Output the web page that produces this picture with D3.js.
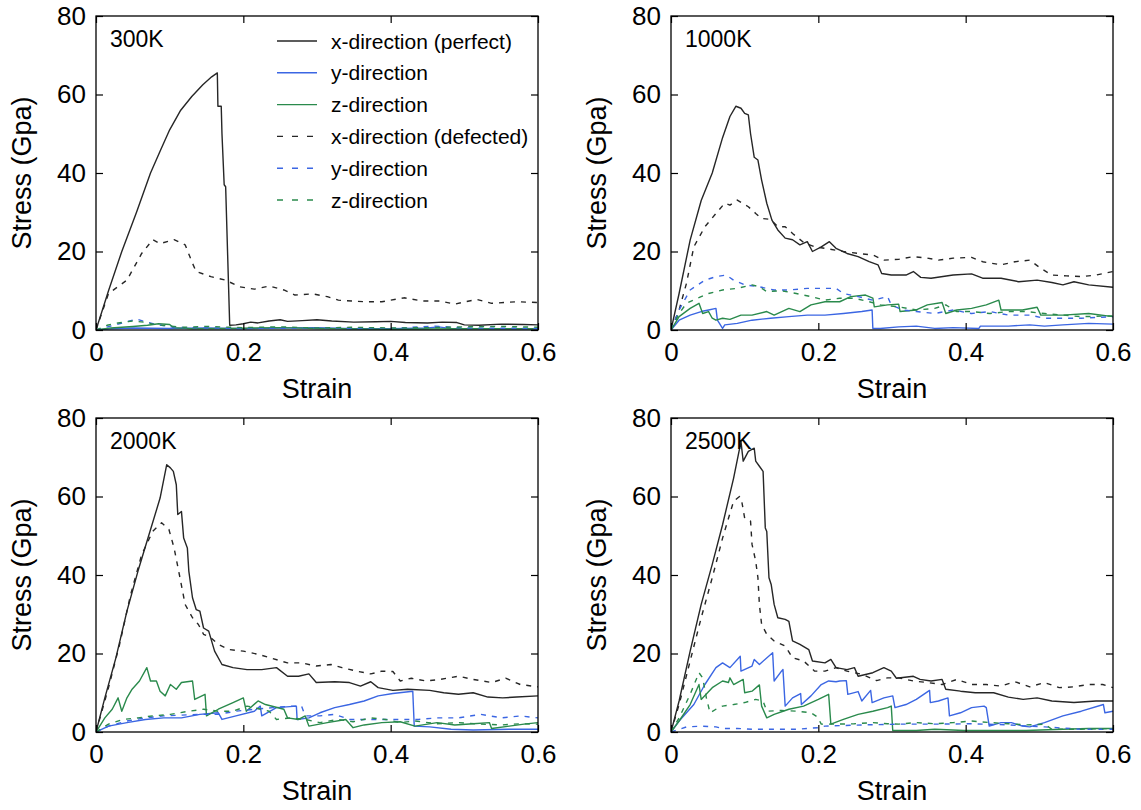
<!DOCTYPE html>
<html>
<head>
<meta charset="utf-8">
<script src="https://cdn.jsdelivr.net/npm/d3@7"></script>
<style>
  body { margin: 0; background: #fff; }
  svg { font-family: "Liberation Sans", Arial, Helvetica, sans-serif; }
  .frame { fill: none; stroke: #000; stroke-width: 1.3; }
  .tick line { stroke: #000; stroke-width: 1.2; }
  .tick text { font-size: 26px; fill: #000; }
  .axis-title { font-size: 27px; fill: #000; }
  .temp-label { font-size: 23px; fill: #000; }
  .legend text { font-size: 21px; fill: #000; }
  .curve { fill: none; stroke-width: 1.4; stroke-linejoin: round; }
</style>
</head>
<body>
<div id="chart"></div>
<script>
// axis ticks
var strainTicks = [0, 0.2, 0.4, 0.6];
var stressTicks = [0, 20, 40, 60, 80];

// legend entries
var seriesNames = ["x-direction (perfect)", "y-direction", "z-direction",
                   "x-direction (defected)", "y-direction", "z-direction"];
var temperatures = ["300K", "1000K", "2000K", "2500K"];

// ---- 300K ----  [strain, stress]
var t300_xPerfect = [[0,0],[0.017,10],[0.035,20],[0.055,30],[0.074,40],[0.088,46],[0.1,51],[0.115,56],[0.13,59.5],[0.145,62.5],[0.157,64.5],[0.1647,65.5],
  [0.1655,57],[0.170,57],[0.171,50],[0.174,37],[0.176,36.5],[0.1815,1.2],[0.19,1.3],[0.2,1.6],[0.21,2],[0.22,1.8],[0.235,2.3],[0.25,2.6],[0.26,2.2],[0.28,2.4],[0.3,2.6],
  [0.32,2.3],[0.35,2],[0.38,2.1],[0.4,2.2],[0.42,1.9],[0.45,1.8],[0.47,2],[0.49,1.9],[0.5,1.3],[0.52,1.2],[0.55,1.5],[0.58,1.4],[0.6,1.3]];
var t300_yPerfect = [[0,0],[0.02,0.3],[0.05,0.5],[0.1,0.4],[0.15,0.5],[0.2,0.3],[0.25,0.5],[0.3,0.6],[0.35,0.3],[0.4,0.3],[0.45,0.5],[0.465,0.8],[0.48,0.4],[0.55,0.3],[0.6,0.3]];
var t300_zPerfect = [[0,0],[0.02,0.5],[0.05,0.9],[0.07,1.2],[0.085,1.6],[0.1,1.4],[0.105,0.6],[0.13,0.3],[0.18,0.4],[0.25,0.6],[0.3,0.4],[0.4,0.2],[0.5,0.3],[0.6,0.3]];
var t300_xDefect = [[0,0],[0.017,9.3],[0.042,12.7],[0.062,19.5],[0.077,23],[0.087,22],[0.106,23],[0.121,21.7],[0.131,17],[0.136,14.9],[0.156,13.6],[0.176,12.7],
  [0.195,11],[0.215,10.4],[0.235,11.2],[0.255,10.2],[0.27,8.9],[0.294,9.2],[0.314,8.5],[0.329,7.6],[0.364,7.2],[0.388,7.2],[0.418,8.2],[0.443,7.4],[0.467,7.4],
  [0.487,6.6],[0.517,7.8],[0.537,6.8],[0.571,7.2],[0.6,7]];
var t300_yDefect = [[0,0],[0.02,1],[0.04,2],[0.055,2.8],[0.065,2.2],[0.08,1.5],[0.1,0.8],[0.12,0.6],[0.15,0.5],[0.2,0.4],[0.3,0.5],[0.4,0.4],[0.46,1.0],[0.5,0.5],[0.6,0.4]];
var t300_zDefect = [[0,0],[0.015,1.2],[0.03,1.8],[0.05,2.3],[0.065,2.0],[0.08,1.4],[0.1,1.0],[0.12,0.7],[0.15,0.9],[0.2,0.6],[0.25,0.8],[0.3,0.5],[0.35,0.7],[0.4,0.5],[0.45,0.6],[0.5,0.8],[0.55,0.9],[0.6,0.7]];

// ---- 1000K ----
var t1000_xPerfect = [[0,0],[0.011,9.3],[0.026,22.9],[0.041,33],[0.056,40],[0.070,49],[0.080,54.4],[0.088,57],[0.095,56.5],[0.100,55.2],[0.105,54.8],[0.108,50],
  [0.113,44],[0.118,43.3],[0.123,38.2],[0.130,32.3],[0.137,28],[0.145,25.5],[0.155,23.4],[0.165,23],[0.175,21.7],[0.185,22.5],[0.192,20],[0.204,21.2],[0.215,22.5],
  [0.224,20.8],[0.239,19.5],[0.254,18.7],[0.269,17.4],[0.281,16.6],[0.286,14.4],[0.299,14],[0.319,14],[0.329,14.9],[0.339,13.4],[0.353,13.2],[0.383,14],[0.408,14.3],
  [0.423,13.2],[0.448,13.2],[0.472,12.3],[0.497,12.7],[0.517,12.1],[0.532,11.5],[0.547,12.3],[0.567,11.5],[0.6,10.9]];
var t1000_yPerfect = [[0,0],[0.011,2.5],[0.026,3.8],[0.041,4.7],[0.051,5.1],[0.061,5.5],[0.063,2.5],[0.070,0.4],[0.073,1.3],[0.090,1.7],[0.110,2.5],[0.135,3.0],
  [0.160,3.4],[0.185,3.8],[0.209,3.8],[0.234,4.2],[0.259,4.7],[0.273,5.1],[0.274,0.4],[0.284,0.4],[0.309,0.8],[0.333,1.0],[0.358,0.4],[0.383,0.6],[0.418,0.4],
  [0.420,1.0],[0.458,1.0],[0.487,1.3],[0.507,1.0],[0.532,1.3],[0.567,1.7],[0.6,1.5]];
var t1000_zPerfect = [[0,0],[0.011,3.4],[0.026,5.5],[0.038,6.8],[0.043,4.2],[0.051,4.7],[0.056,3.0],[0.061,2.5],[0.070,3.0],[0.080,2.7],[0.095,3.8],[0.110,3.8],
  [0.130,4.7],[0.140,3.8],[0.160,5.5],[0.175,4.7],[0.190,6.4],[0.209,7.2],[0.229,7.2],[0.244,8.5],[0.264,8.9],[0.274,8.1],[0.276,5.9],[0.294,6.4],[0.309,6.6],
  [0.311,4.7],[0.333,5.1],[0.348,6.4],[0.368,7.0],[0.373,4.2],[0.388,5.1],[0.408,5.5],[0.428,6.4],[0.445,7.6],[0.448,5.1],[0.477,5.1],[0.497,5.8],[0.502,3.8],
  [0.532,3.8],[0.567,4.2],[0.6,3.4]];
var t1000_xDefect = [[0,0],[0.011,5.1],[0.021,11.9],[0.031,21.2],[0.046,26.3],[0.061,29.7],[0.073,32.3],[0.080,31.8],[0.090,33.1],[0.105,31.4],[0.115,29.7],
  [0.123,28.4],[0.135,28.2],[0.145,26.3],[0.155,26.3],[0.165,24.6],[0.180,22.3],[0.195,21.2],[0.209,20.8],[0.234,20],[0.254,19.5],[0.274,19.1],[0.289,17.8],
  [0.309,18],[0.329,18.7],[0.348,18.3],[0.363,17.8],[0.383,18.3],[0.408,18.5],[0.423,17.4],[0.448,16.6],[0.467,17.4],[0.487,17.8],[0.502,15.7],[0.517,14],
  [0.537,13.8],[0.557,13.6],[0.577,14],[0.6,14.9]];
var t1000_yDefect = [[0,0],[0.011,5.1],[0.026,10.2],[0.046,12.7],[0.061,13.6],[0.075,14],[0.085,12.7],[0.100,11.5],[0.120,11],[0.140,10.2],[0.160,10.2],
  [0.185,10.6],[0.209,10.6],[0.224,10.6],[0.234,9.3],[0.254,8.5],[0.274,7.6],[0.294,8.5],[0.299,6.4],[0.314,5.1],[0.333,4.7],[0.358,4.2],[0.383,5.1],[0.408,4.2],
  [0.433,4.7],[0.458,3.8],[0.487,3.8],[0.507,3.0],[0.557,3.0],[0.6,3.4]];
var t1000_zDefect = [[0,0],[0.011,4.2],[0.021,6.8],[0.036,8.1],[0.051,9.3],[0.070,10.2],[0.090,10.6],[0.110,11.5],[0.120,11],[0.130,9.8],[0.150,10],[0.170,9.3],
  [0.190,8.5],[0.209,7.6],[0.229,8.1],[0.249,8.1],[0.269,7.2],[0.284,6.4],[0.309,5.9],[0.333,5.1],[0.358,5.5],[0.373,6.4],[0.388,4.7],[0.408,4.7],[0.433,4.2],
  [0.458,4.7],[0.482,4.7],[0.507,4.2],[0.557,3.4],[0.6,3.6]];

// ---- 2000K ----
var t2000_xPerfect = [[0,0],[0.012,8.7],[0.027,18.9],[0.042,30.8],[0.057,41],[0.072,50.3],[0.087,59.6],[0.096,68.1],[0.101,67.3],[0.105,66.4],[0.109,63],
  [0.111,55.4],[0.116,56.2],[0.119,49.4],[0.124,46.9],[0.126,41],[0.131,34.2],[0.136,31.2],[0.141,30.8],[0.146,26.5],[0.153,25.7],[0.161,20.6],[0.171,17.2],
  [0.186,16.4],[0.205,15.9],[0.225,15.9],[0.245,16.4],[0.260,14.2],[0.275,14.2],[0.289,14.8],[0.299,12.6],[0.324,12.8],[0.344,12.6],[0.359,11.7],[0.373,12.8],
  [0.383,11.3],[0.403,10.6],[0.423,10.9],[0.453,10.6],[0.472,10],[0.492,9.6],[0.512,10],[0.532,8.9],[0.552,8.7],[0.571,8.9],[0.6,9.2]];
var t2000_yPerfect = [[0,0],[0.017,1.5],[0.042,2.4],[0.067,3.2],[0.092,3.6],[0.116,3.6],[0.141,4.5],[0.166,4.9],[0.171,3.2],[0.190,4.1],[0.215,5.3],[0.223,6.6],
  [0.225,4.1],[0.245,6.2],[0.272,6.6],[0.273,3.2],[0.289,3.6],[0.304,4.9],[0.324,6.2],[0.344,7],[0.364,7.9],[0.383,9.2],[0.403,9.8],[0.430,10.4],[0.432,1.5],
  [0.453,1.3],[0.482,0.7],[0.512,0.5],[0.561,0.7],[0.6,0.7]];
var t2000_zPerfect = [[0,0],[0.012,3.6],[0.022,5.8],[0.030,8.7],[0.035,5.3],[0.042,8.7],[0.049,10.9],[0.059,13],[0.069,16.4],[0.074,13],[0.082,13],[0.087,10.4],
  [0.094,9.2],[0.101,12.1],[0.109,10.9],[0.116,12.6],[0.131,13],[0.134,8.3],[0.148,9.6],[0.150,4.1],[0.166,5.8],[0.186,7.5],[0.200,8.7],[0.204,5.3],[0.220,7.9],
  [0.230,7],[0.255,5.8],[0.260,3.6],[0.275,3.2],[0.284,4.1],[0.289,1.5],[0.314,2.4],[0.339,3.2],[0.349,1.1],[0.364,1.8],[0.388,2.4],[0.413,2.6],[0.433,1.5],
  [0.463,2.4],[0.487,1.8],[0.512,2.1],[0.534,2.4],[0.537,0.9],[0.561,1.5],[0.581,2.0],[0.6,2.4]];
var t2000_xDefect = [[0,0],[0.017,11.3],[0.032,22.3],[0.047,35],[0.062,45.2],[0.077,51.1],[0.089,53.3],[0.099,51.6],[0.106,46.9],[0.114,39.3],[0.121,32.5],
  [0.131,29.1],[0.139,27.4],[0.146,24.9],[0.156,24],[0.166,22.3],[0.181,21],[0.200,20.6],[0.220,19.8],[0.240,18.7],[0.260,17.6],[0.279,17.6],[0.299,16.8],
  [0.319,17.2],[0.334,16.4],[0.354,15.5],[0.373,14.8],[0.388,15.5],[0.403,15.4],[0.413,13],[0.428,13.7],[0.448,13],[0.467,13.4],[0.492,14.2],[0.512,13.4],
  [0.537,12.6],[0.556,13.7],[0.576,12.1],[0.6,11.5]];
var t2000_yDefect = [[0,0],[0.017,1.5],[0.042,2.8],[0.067,3.6],[0.092,4.1],[0.116,4.3],[0.141,4.5],[0.166,4.5],[0.190,5.3],[0.215,5.8],[0.240,6.2],[0.265,6.6],
  [0.279,6.6],[0.284,4.1],[0.304,4.1],[0.324,4.5],[0.344,3.2],[0.364,3.2],[0.388,3.2],[0.413,3.2],[0.438,3.2],[0.463,3.6],[0.492,3.6],[0.522,4.5],[0.551,3.6],
  [0.576,4.1],[0.6,3.6]];
var t2000_zDefect = [[0,0],[0.017,2],[0.037,3.2],[0.057,3.6],[0.077,4.1],[0.101,4.5],[0.126,5.3],[0.146,5.8],[0.166,5.3],[0.186,5.3],[0.205,6.6],[0.215,6.2],
  [0.235,5.3],[0.245,3.2],[0.265,3.6],[0.284,3.2],[0.304,2.4],[0.329,3.2],[0.349,2.6],[0.373,3.6],[0.393,3.2],[0.413,2.4],[0.433,2.8],[0.463,2.1],[0.492,2.4],
  [0.522,2],[0.551,1.8],[0.576,2.1],[0.6,2]];

// ---- 2500K ----
var t2500_xPerfect = [[0,0],[0.011,7.9],[0.026,20.6],[0.041,32.5],[0.056,42.7],[0.070,52.8],[0.085,64.7],[0.095,74],[0.098,69],[0.105,71.5],[0.113,72.3],
  [0.115,69],[0.120,67.7],[0.125,66.4],[0.128,52],[0.130,51.1],[0.133,39.3],[0.136,37.6],[0.140,32.5],[0.145,29.1],[0.155,28.7],[0.160,28.2],[0.165,23.2],
  [0.175,22.3],[0.187,21],[0.192,18.1],[0.209,17.6],[0.217,18.5],[0.224,16.4],[0.239,15.9],[0.249,16.4],[0.254,14.2],[0.274,15.1],[0.289,16.4],[0.299,15.5],
  [0.306,13.7],[0.329,14.2],[0.338,13.4],[0.353,13],[0.368,13.4],[0.373,10.9],[0.393,10.4],[0.413,10],[0.438,10],[0.458,8.9],[0.478,8.3],[0.497,8.7],[0.517,7.9],
  [0.547,7.5],[0.577,7.9],[0.6,7.9]];
var t2500_yPerfect = [[0,0],[0.011,2.8],[0.031,7],[0.046,12.1],[0.061,16.4],[0.070,17.6],[0.080,16.4],[0.094,19.3],[0.095,15.5],[0.110,16.8],[0.113,18.5],
  [0.120,17.2],[0.138,20.2],[0.140,13],[0.150,15.5],[0.152,15.9],[0.155,6.6],[0.165,8.7],[0.176,9.8],[0.177,7],[0.190,9.2],[0.204,12.1],[0.214,13],[0.224,12.8],
  [0.229,13],[0.238,13.1],[0.240,9.6],[0.254,10.3],[0.259,7.9],[0.271,10.6],[0.273,7.5],[0.289,8.7],[0.301,9.2],[0.304,6.2],[0.319,7],[0.333,8.3],[0.351,10.6],
  [0.352,7.5],[0.363,7.9],[0.376,8.7],[0.378,4.1],[0.393,4.9],[0.408,6.2],[0.425,6.6],[0.428,6.2],[0.432,1.5],[0.448,2.4],[0.462,2.4],[0.477,1.5],[0.487,1.3],
  [0.507,2.4],[0.532,4.1],[0.557,5.3],[0.587,7],[0.589,4.9],[0.6,5.3]];
var t2500_zPerfect = [[0,0],[0.011,2.8],[0.026,7],[0.038,12.1],[0.041,8.3],[0.056,11.3],[0.070,13],[0.078,12.6],[0.080,13.8],[0.085,12.1],[0.098,13.4],[0.100,10],
  [0.110,10.4],[0.120,12],[0.123,6.6],[0.130,3.6],[0.140,4.5],[0.160,5.8],[0.180,6.6],[0.200,8.3],[0.214,9.6],[0.217,2],[0.234,3.2],[0.254,4.5],[0.274,5.3],
  [0.294,6.2],[0.299,6.6],[0.301,0.4],[0.333,0.4],[0.358,0.7],[0.398,0.4],[0.433,0.4],[0.482,0.4],[0.532,0.7],[0.567,0.9],[0.6,0.9]];
var t2500_xDefect = [[0,0],[0.011,7],[0.026,18.1],[0.041,29.1],[0.056,39.3],[0.070,49.4],[0.085,58.8],[0.093,60],[0.096,58.8],[0.100,54.5],[0.108,53.7],
  [0.110,47.8],[0.115,43.5],[0.118,39.3],[0.120,32.5],[0.123,27.4],[0.130,24.9],[0.140,23.2],[0.155,21.9],[0.165,18.9],[0.180,18.1],[0.195,15.5],[0.209,15.5],
  [0.224,16.4],[0.239,15.5],[0.259,14.7],[0.279,13.1],[0.294,13.8],[0.309,13.8],[0.329,13],[0.348,12.6],[0.368,12.1],[0.388,13.4],[0.408,12.1],[0.428,12.1],
  [0.448,11.7],[0.467,12.8],[0.487,11.5],[0.507,12.6],[0.527,11.3],[0.547,11.5],[0.566,12.1],[0.586,12.1],[0.6,11.3]];
var t2500_yDefect = [[0,0],[0.021,1.3],[0.041,1.5],[0.061,1.3],[0.070,0.9],[0.090,0.9],[0.110,0.7],[0.140,0.7],[0.170,0.7],[0.200,1.1],[0.209,1.5],[0.259,1.8],
  [0.309,2],[0.358,2],[0.408,2.1],[0.458,1.8],[0.507,1.3],[0.557,0.7],[0.6,0.7]];
var t2500_zDefect = [[0,0],[0.011,3.6],[0.026,9.6],[0.038,15.1],[0.043,13.8],[0.048,8.7],[0.053,4.9],[0.061,5.8],[0.070,6.6],[0.085,7],[0.100,7.5],[0.115,8.3],
  [0.125,7.9],[0.130,5.3],[0.150,5.5],[0.170,5.3],[0.190,4.9],[0.199,3.8],[0.204,2],[0.224,2],[0.249,2.1],[0.274,2.4],[0.294,2.1],[0.309,2],[0.333,2.4],
  [0.358,2.1],[0.383,2.4],[0.408,2.8],[0.433,2.4],[0.458,2.1],[0.482,1.8],[0.507,2],[0.517,0.7],[0.557,0.7],[0.6,0.9]];

var panelSeries = [
  [t300_xPerfect, t300_yPerfect, t300_zPerfect, t300_xDefect, t300_yDefect, t300_zDefect],
  [t1000_xPerfect, t1000_yPerfect, t1000_zPerfect, t1000_xDefect, t1000_yDefect, t1000_zDefect],
  [t2000_xPerfect, t2000_yPerfect, t2000_zPerfect, t2000_xDefect, t2000_yDefect, t2000_zDefect],
  [t2500_xPerfect, t2500_yPerfect, t2500_zPerfect, t2500_xDefect, t2500_yDefect, t2500_zDefect]
];

// styles: black / blue / green, solid then dashed
var colors = ["#262626", "#3b66e3", "#2a8a4c", "#262626", "#3b66e3", "#2a8a4c"];
var dashes = [null, null, null, "5,6", "5,6", "5,6"];

var width = 442, height = 314;
var origins = [[96, 16], [671, 16], [96, 418], [671, 418]];

var svg = d3.select("#chart").append("svg")
  .attr("width", 1141).attr("height", 810);

var x = d3.scaleLinear().domain([0, 0.6]).range([0, width]);
var y = d3.scaleLinear().domain([0, 80]).range([height, 0]);

var line = d3.line()
  .x(function(d) { return x(d[0]); })
  .y(function(d) { return y(d[1]); });

function fmtStrain(d) { return d === 0 ? "0" : d3.format(".1f")(d); }

panelSeries.forEach(function(series, p) {
  var g = svg.append("g")
    .attr("transform", "translate(" + origins[p][0] + "," + origins[p][1] + ")");

  // clip curves to the frame
  g.append("clipPath").attr("id", "clip" + p)
    .append("rect").attr("width", width).attr("height", height);

  var curves = g.append("g").attr("clip-path", "url(#clip" + p + ")");
  series.forEach(function(data, i) {
    curves.append("path")
      .datum(data)
      .attr("class", "curve")
      .attr("stroke", colors[i])
      .attr("stroke-dasharray", dashes[i])
      .attr("d", line);
  });

  // axes with inward ticks on all four sides
  g.append("g")
    .attr("transform", "translate(0," + height + ")")
    .call(d3.axisBottom(x).tickValues(strainTicks).tickSizeInner(-7).tickSizeOuter(0).tickPadding(13).tickFormat(fmtStrain))
    .call(function(a) { a.select(".domain").remove(); a.selectAll("text").attr("y", 13).attr("font-family", null).attr("font-size", null); });
  g.append("g")
    .call(d3.axisTop(x).tickValues(strainTicks).tickSizeInner(-7).tickSizeOuter(0).tickFormat(""))
    .call(function(a) { a.select(".domain").remove(); });
  g.append("g")
    .call(d3.axisLeft(y).tickValues(stressTicks).tickSizeInner(-7).tickSizeOuter(0).tickPadding(10))
    .call(function(a) { a.select(".domain").remove(); a.selectAll("text").attr("x", -10).attr("font-family", null).attr("font-size", null); });
  g.append("g")
    .attr("transform", "translate(" + width + ",0)")
    .call(d3.axisRight(y).tickValues(stressTicks).tickSizeInner(-7).tickSizeOuter(0).tickFormat(""))
    .call(function(a) { a.select(".domain").remove(); });

  g.append("rect").attr("class", "frame")
    .attr("width", width).attr("height", height);

  // axis titles
  g.append("text").attr("class", "axis-title")
    .attr("x", width / 2).attr("y", height + 68)
    .attr("text-anchor", "middle")
    .text("Strain");
  g.append("text").attr("class", "axis-title")
    .attr("transform", "translate(-65," + (height / 2) + ") rotate(-90)")
    .attr("text-anchor", "middle")
    .text("Stress (Gpa)");

  g.append("text").attr("class", "temp-label")
    .attr("x", 14).attr("y", 31)
    .text(temperatures[p]);

  // legend only in the first panel
  if (p === 0) {
    var legend = g.append("g").attr("class", "legend");
    seriesNames.forEach(function(name, i) {
      var ly = 25 + i * 31.8;
      legend.append("line")
        .attr("x1", 181).attr("x2", 221)
        .attr("y1", ly).attr("y2", ly)
        .attr("stroke", colors[i])
        .attr("stroke-width", 1.4)
        .attr("stroke-dasharray", dashes[i] ? "6,9" : null);
      legend.append("text")
        .attr("x", 235).attr("y", ly + 7.5)
        .text(name);
    });
  }
});
</script>
</body>
</html>
